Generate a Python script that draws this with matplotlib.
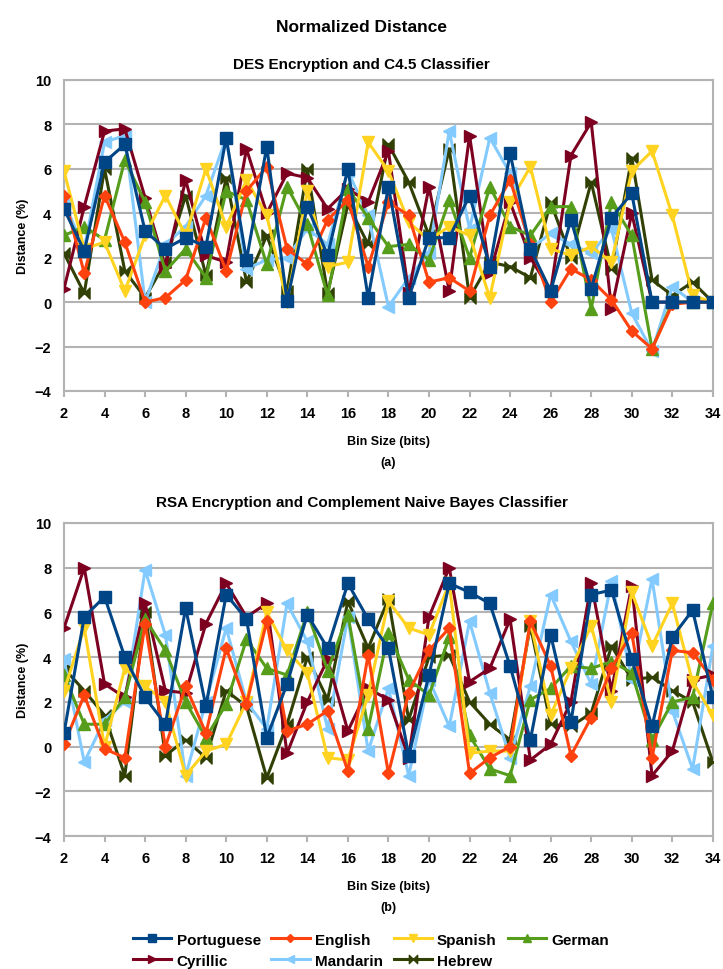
import matplotlib
matplotlib.use("Agg")
import matplotlib.pyplot as plt
from matplotlib.path import Path

plt.rcParams['font.family'] = ['Liberation Sans', 'DejaVu Sans']

bins = list(range(2, 35))
languages = ["Portuguese", "English", "Spanish", "German", "Cyrillic", "Mandarin", "Hebrew"]

# (a) DES Encryption and C4.5 Classifier
portuguese_a = [4.2, 2.3, 6.3, 7.1, 3.2, 2.4, 2.9, 2.5, 7.4, 1.9, 7.0, 0.05, 4.3, 2.1, 6.0, 0.2, 5.2,
                0.2, 2.9, 2.9, 4.8, 1.6, 6.7, 2.4, 0.5, 3.7, 0.6, 3.8, 4.9, 0.0, 0.0, 0.0, 0.0]
english_a = [4.8, 1.3, 4.8, 2.7, 0.0, 0.2, 1.0, 3.8, 1.4, 5.0, 6.1, 2.4, 1.7, 3.7, 4.6, 1.6, 4.5,
             3.9, 0.9, 1.1, 0.5, 3.9, 5.5, 2.6, 0.0, 1.5, 1.0, 0.1, -1.3, -2.1, -0.1, 0.0, 0.0]
spanish_a = [5.9, 2.4, 2.7, 0.5, 3.0, 4.8, 3.0, 6.0, 3.4, 5.5, 3.9, 0.0, 5.0, 1.6, 1.8, 7.2, 5.9,
             3.6, 2.8, 3.4, 3.0, 0.2, 4.5, 6.1, 2.4, 2.1, 2.5, 1.8, 5.9, 6.8, 3.9, 0.3, 0.0]
german_a = [3.0, 3.4, 2.8, 6.4, 4.5, 1.4, 2.4, 1.1, 5.0, 4.6, 1.7, 5.2, 3.5, 0.3, 5.1, 3.8, 2.5,
            2.6, 1.9, 4.6, 2.0, 5.2, 3.4, 3.0, 4.3, 4.3, -0.3, 4.5, 3.0, -2.1, 0.0, 0.0, 0.0]
cyrillic_a = [0.6, 4.3, 7.7, 7.8, 4.7, 1.6, 5.5, 2.1, 1.8, 6.9, 4.0, 5.8, 5.6, 4.2, 5.1, 4.5, 6.8,
              0.4, 5.2, 0.5, 7.5, 1.3, 4.5, 2.0, 0.5, 6.6, 8.1, -0.3, 4.0, 0.0, 0.0, 0.0, 0.0]
mandarin_a = [4.5, 2.4, 7.2, 7.5, 0.0, 2.6, 3.4, 4.8, 7.4, 1.5, 1.9, 2.0, 3.3, 2.6, 5.9, 3.9, -0.2,
              1.1, 2.2, 7.7, 3.3, 7.4, 5.8, 2.4, 3.1, 2.6, 2.2, 3.3, -0.5, -2.2, 0.7, 0.0, 0.0]
hebrew_a = [2.2, 0.4, 6.0, 1.4, 0.2, 1.8, 4.8, 1.2, 5.6, 0.9, 3.0, 0.5, 6.0, 0.4, 4.4, 2.6, 7.1,
            5.4, 3.0, 6.9, 0.2, 1.8, 1.6, 1.1, 4.5, 2.0, 5.4, 1.5, 6.5, 1.0, 0.3, 0.9, 0.0]

# (b) RSA Encryption and Complement Naive Bayes Classifier
portuguese_b = [0.6, 5.8, 6.7, 4.0, 2.2, 1.0, 6.2, 1.8, 6.8, 5.7, 0.4, 2.8, 5.9, 4.4, 7.3, 5.7, 4.4,
                -0.4, 3.2, 7.3, 6.9, 6.4, 3.6, 0.3, 5.0, 1.1, 6.8, 7.0, 3.9, 0.9, 4.9, 6.1, 2.2]
english_b = [0.1, 2.3, -0.1, -0.5, 5.5, 0.0, 2.7, 0.6, 4.4, 1.9, 5.6, 0.7, 1.0, 1.6, -1.1, 4.1, -1.2,
             2.4, 4.3, 5.3, -1.2, -0.5, 0.0, 5.6, 3.6, -0.4, 1.3, 3.5, 5.1, -0.5, 4.3, 4.2, 3.0]
spanish_b = [2.5, 5.3, 0.0, 3.5, 2.7, 2.0, -1.3, -0.2, 0.1, 2.0, 6.0, 4.3, 3.3, -0.5, -0.6, 2.3, 6.5,
             5.3, 5.0, 7.3, -0.3, -0.2, -0.2, 5.6, 1.4, 3.5, 5.4, 2.0, 6.9, 4.5, 6.4, 2.9, 1.4]
german_b = [3.2, 1.0, 1.0, 2.2, 5.7, 4.3, 2.0, 0.4, 1.9, 4.8, 3.5, 3.2, 6.0, 3.4, 5.9, 0.8, 5.1,
            3.0, 2.3, 4.9, 0.5, -1.0, -1.3, 2.1, 2.6, 3.6, 3.5, 3.8, 3.3, 0.3, 2.0, 2.2, 6.4]
cyrillic_b = [5.3, 8.0, 2.8, 2.2, 6.4, 2.5, 2.4, 5.5, 7.3, 5.8, 6.4, -0.3, 2.0, 3.9, 0.7, 2.6, 2.1,
              -0.5, 5.8, 8.0, 2.9, 3.5, 5.7, -0.6, 0.1, 2.0, 7.3, 2.5, 7.2, -1.3, -0.2, 3.0, 3.2]
mandarin_b = [3.9, -0.7, 1.2, 2.0, 7.9, 5.0, -1.3, 2.0, 5.3, 2.0, 0.8, 6.4, 4.7, 0.8, 5.8, -0.2, 2.6,
              -1.3, 3.0, 0.9, 5.6, 2.4, -0.5, 2.7, 6.8, 4.7, 2.8, 7.4, 3.0, 7.5, 1.6, -1.0, 4.5]
hebrew_b = [3.5, 2.5, 1.4, -1.3, 6.0, -0.4, 0.3, -0.5, 2.5, 1.8, -1.4, 1.0, 4.0, 2.1, 6.5, 4.4, 6.6,
            1.2, 4.0, 4.1, 2.0, 1.0, 0.3, 5.4, 1.0, 0.9, 1.5, 4.5, 3.0, 3.1, 2.5, 2.0, -0.7]

series_a = [portuguese_a, english_a, spanish_a, german_a, cyrillic_a, mandarin_a, hebrew_a]
series_b = [portuguese_b, english_b, spanish_b, german_b, cyrillic_b, mandarin_b, hebrew_b]

colors = ["#004586", "#ff420e", "#ffd320", "#579d1c", "#7e0021", "#83caff", "#314004"]
bowtie = Path([(-1, 1), (1, -1), (1, 1), (-1, -1), (-1, 1)],
              [Path.MOVETO, Path.LINETO, Path.LINETO, Path.LINETO, Path.CLOSEPOLY])
markers = ["s", "D", "v", "^", ">", "<", bowtie]
msizes = [8, 6, 8, 8, 8, 8, 8]


def draw_panel(ax, series, label):
    handles = []
    for i in reversed(range(len(languages))):
        h, = ax.plot(bins, series[i], color=colors[i], marker=markers[i], markersize=msizes[i],
                     linewidth=2.2, label=languages[i], zorder=10 - i)
        handles.append(h)
    ax.set_xlim(2, 34)
    ax.set_ylim(-4, 10)
    ax.set_xticks(range(2, 35, 2))
    ax.set_yticks(range(-4, 11, 2))
    ax.grid(axis="y", color="#b3b3b3", linewidth=1.5)
    ax.set_axisbelow(True)
    for s in ax.spines.values():
        s.set_color("#b3b3b3")
        s.set_linewidth(1.5)
    ax.tick_params(axis="x", length=4, width=1.5, color="#b3b3b3", direction="out",
                   labelsize=10.5, pad=7)
    ax.tick_params(axis="y", length=0, labelsize=10.5, pad=9)
    for t in ax.get_xticklabels() + ax.get_yticklabels():
        t.set_fontweight("bold")
    ax.set_ylabel("Distance (%)", fontsize=9, fontweight="bold", labelpad=4)
    ax.text(0.5, -0.16, "Bin Size (bits)", transform=ax.transAxes, ha="center", va="center",
            fontsize=9, fontweight="bold")
    ax.text(0.5, -0.227, label, transform=ax.transAxes, ha="center", va="center",
            fontsize=9, fontweight="bold")
    return handles[::-1]


fig = plt.figure(figsize=(7.23, 9.70), dpi=100)
fig.text(0.5, 0.972, "Normalized Distance", ha="center", va="center", fontsize=12.5, fontweight="bold")
fig.text(0.5, 0.933, "DES Encryption and C4.5 Classifier", ha="center", va="center",
         fontsize=11, fontweight="bold")
fig.text(0.5, 0.4815, "RSA Encryption and Complement Naive Bayes Classifier", ha="center",
         va="center", fontsize=11, fontweight="bold")

ax1 = fig.add_axes([0.0885, 0.5959, 0.8975, 0.3206])
ax2 = fig.add_axes([0.0885, 0.1371, 0.8975, 0.3227])

h = draw_panel(ax1, series_a, "(a)")
draw_panel(ax2, series_b, "(b)")

order = [0, 4, 1, 5, 2, 6, 3]
fig.legend([h[i] for i in order], [languages[i] for i in order], loc="center",
           bbox_to_anchor=(0.513, 0.0195), ncol=4, frameon=False,
           handlelength=2.5, columnspacing=0.7, labelspacing=0.45, handletextpad=0.35,
           markerscale=0.75, prop={"weight": "bold", "size": 11})

fig.savefig("out.png", dpi=100)
